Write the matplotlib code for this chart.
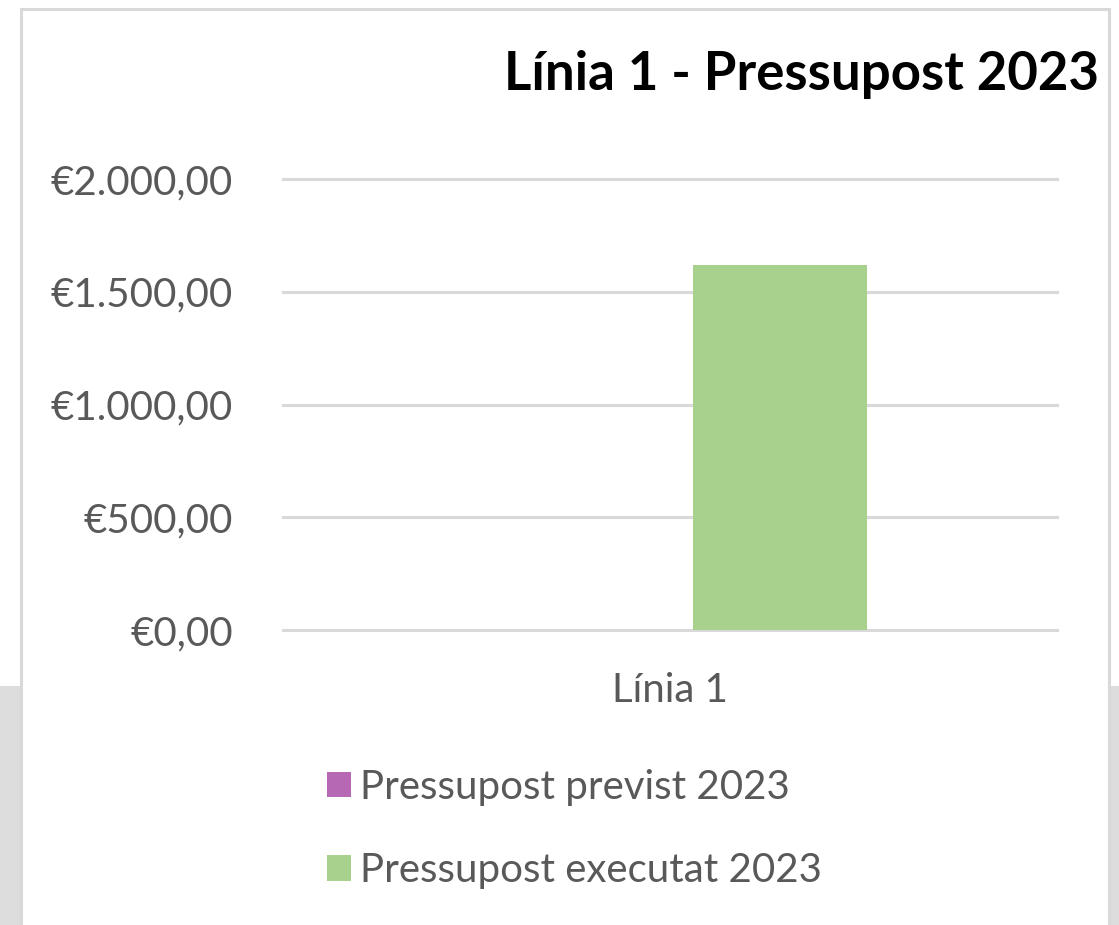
import matplotlib
matplotlib.use("Agg")
import matplotlib.pyplot as plt
from matplotlib.patches import Rectangle, Patch
from matplotlib.ticker import FuncFormatter
import numpy as np

plt.rcParams['font.family'] = ['Lato', 'DejaVu Sans']

# ---- data ----
categories = ["Línia 1"]
series_names = ["Pressupost previst 2023", "Pressupost executat 2023"]
previst = [0.0]
executat = [1620.0]
series_colors = ["#B668B4", "#A9D18E"]
title = "Línia 1 - Pressupost 2023"
yticks = [0, 500, 1000, 1500, 2000]

W, H = 1119, 925
DPI = 100
fig = plt.figure(figsize=(W / DPI, H / DPI), dpi=DPI)
fig.patch.set_facecolor("white")

def fx(px):
    return px / W

def fy(py):
    return 1 - py / H

# background texture strips (outside the chart frame)
fig.patches.append(Rectangle((0, 0), fx(20), fy(686), transform=fig.transFigure,
                             facecolor="#DDDDDD", edgecolor="none", zorder=0))
fig.patches.append(Rectangle((fx(1108), 0), fx(W - 1108), fy(686), transform=fig.transFigure,
                             facecolor="#DDDDDD", edgecolor="none", zorder=0))
# chart frame
fig.patches.append(Rectangle((fx(20.5), fy(935)), fx(1109 - 20.5), fy(8.5) - fy(935),
                             transform=fig.transFigure, facecolor="white",
                             edgecolor="#D9D9D9", linewidth=2.2, zorder=0.5))

# axes
left, right, top, bottom = 283, 1057, 179, 630
ax = fig.add_axes([fx(left), fy(bottom), fx(right - left), fy(top) - fy(bottom)])
ax.set_zorder(2)
ax.set_facecolor("none")

x = np.arange(len(categories))
bw = 0.225
off = 0.142
ax.bar(x - off, previst, width=bw, color=series_colors[0], zorder=3)
ax.bar(x + off, executat, width=bw, color=series_colors[1], zorder=3)

ax.set_xlim(-0.5, 0.5)
ax.set_ylim(0, 2000)
ax.set_yticks(yticks)

def eur(v, pos):
    s = f"{v:,.2f}".replace(",", "X").replace(".", ",").replace("X", ".")
    return "€" + s

ax.yaxis.set_major_formatter(FuncFormatter(eur))
ax.set_xticks(x)
ax.set_xticklabels(categories)
ax.tick_params(axis="y", length=0, pad=36, labelsize=29, labelcolor="#595959")
ax.tick_params(axis="x", length=0, pad=30, labelsize=29, labelcolor="#595959")
ax.grid(axis="y", color="#D9D9D9", linewidth=2.2, zorder=0)
for s in ax.spines.values():
    s.set_visible(False)
for gl in ax.get_ygridlines():
    gl.set_clip_on(False)

# title
fig.text(fx(1099), fy(90), title, ha="right", va="baseline", fontsize=38,
         fontweight="bold", color="black")

# legend
handles = [Patch(facecolor=c, edgecolor="none", label=n) for c, n in zip(series_colors, series_names)]
leg = fig.legend(handles=handles, loc="center left", bbox_to_anchor=(fx(311), fy(829)),
                 frameon=False, fontsize=29, labelcolor="#595959",
                 handlelength=0.6, handleheight=0.6, handletextpad=0.22,
                 labelspacing=1.15, borderaxespad=0)

fig.savefig("out.png", dpi=DPI, facecolor="white")
